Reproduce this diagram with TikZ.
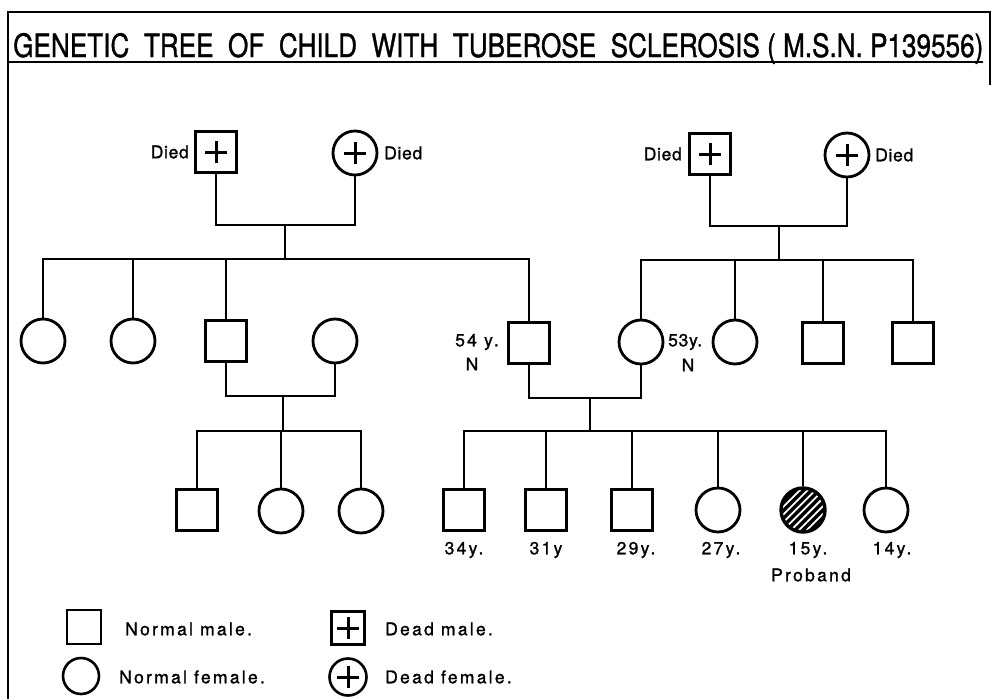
\documentclass[tikz,border=0pt]{standalone}
\usepackage{fontspec}
\usepackage{graphicx}
\usetikzlibrary{patterns.meta,shapes.geometric}
\newfontfamily\lblfont[LetterSpace=13,FakeBold=1.2]{TeX Gyre Heros}
\newfontfamily\diedfont[LetterSpace=4,FakeBold=1.2]{TeX Gyre Heros}
\newfontfamily\titlefont[FakeBold=1.2]{TeX Gyre Heros}
\tikzset{
  male/.style={draw, rectangle, minimum size=41pt, inner sep=0pt, line width=3pt},
  female/.style={draw, circle, minimum size=44pt, inner sep=0pt, line width=2.8pt},
  dead/.style={path picture={
      \draw[line width=3pt] ([xshift=-11pt]path picture bounding box.center) -- ([xshift=11pt]path picture bounding box.center);
      \draw[line width=3pt] ([yshift=-11pt]path picture bounding box.center) -- ([yshift=11pt]path picture bounding box.center);}},
  conn/.style={line width=2.9pt},
  frame/.style={line width=2pt},
  lbl/.style={font=\lblfont\fontsize{17.5}{20}\selectfont, inner sep=0pt},
  died/.style={font=\diedfont\fontsize{17.5}{20}\selectfont, inner sep=0pt},
}
\begin{document}
\begin{tikzpicture}[x=1pt,y=-1pt]
\useasboundingbox (0,0) rectangle (991,699);
% frame
\coordinate (ftl) at (8,12);
\coordinate (ftr) at (990,12);
\coordinate (fbl) at (8,699);
\coordinate (frb) at (990,85);
\coordinate (ul) at (8,62);
\coordinate (ur) at (983,62);
\draw[frame] (fbl) -- (ftl) -- (ftr) -- (frb);
\draw[frame] (ul) -- (ur);
\node[anchor=base west, inner sep=0pt] (title) at (13,57)
  {\resizebox{970pt}{24pt}{\titlefont GENETIC\ \ TREE\ \ OF\ \ CHILD\ \ WITH\ \ TUBEROSE\ \ SCLEROSIS\ ( M.S.N. P139556)}};

% Generation I
\node[male, dead, line width=3.6pt] (gi1) at (216,152) {};
\node[female, dead] (gi2) at (355,153) {};
\node[male, dead] (gi3) at (710,154) {};
\node[female, dead] (gi4) at (847,155) {};
\node[died, anchor=east] (d1) at (189,152) {Died};
\node[died, anchor=west] (d2) at (384,153) {Died};
\node[died, anchor=east] (d3) at (682,154) {Died};
\node[died, anchor=west] (d4) at (875,155) {Died};

% Generation II
\node[female] (c1) at (43,341) {};
\node[female] (c2) at (133,341) {};
\node[male] (c3) at (226,341) {};
\node[female] (w1) at (335,341) {};
\node[male] (fa) at (529,343) {};
\node[female] (mo) at (641,342) {};
\node[female] (a2) at (735,342) {};
\node[male] (a3) at (823,343) {};
\node[male] (a4) at (913,343) {};
\node[lbl, anchor=east] (fal) at (499,342) {54 y.};
\node[lbl] (fan) at (472,364) {N};
\node[died, anchor=west] (mol) at (668,342) {53y.};
\node[lbl] (mon) at (688,365) {N};

% Generation III
\node[male] (g1) at (197,510) {};
\node[female] (g2) at (281,511) {};
\node[female] (g3) at (361,511) {};
\node[male] (h1) at (464,510) {};
\node[male] (h2) at (546,510) {};
\node[male] (h3) at (632,510) {};
\node[female] (h4) at (718,510) {};
\node[female, line width=3.4pt,
  preaction={fill=black},
  preaction={pattern={Lines[angle=45,distance=5.5pt,line width=1.8pt]}, pattern color=white}] (h5) at (803,510) {};
\node[female] (h6) at (886,510) {};
\node[lbl] (l1) at (464,550) {34y.};
\node[lbl] (l2) at (546,550) {31y};
\node[lbl] (l3) at (636,550) {29y.};
\node[lbl] (l4) at (721,550) {27y.};
\node[lbl] (l5) at (808,550) {15y.};
\node[lbl] (l6) at (892,550) {14y.};
\node[lbl] (pb) at (811,575) {Proband};

% connectors generation I -> II
\coordinate (m1) at (285,225);
\coordinate (s1) at (285,259);
\draw[conn] (gi1.south) |- (m1) -| (gi2.south);
\draw[conn] (m1) -- (s1);
\draw[conn] (c1.north) |- (s1) -| (fa.north);
\draw[conn] (c2.north) -- (c2.north |- s1);
\draw[conn] (c3.north) -- (c3.north |- s1);

\coordinate (m2) at (779,226);
\coordinate (s2) at (779,260);
\draw[conn] (gi3.south) |- (m2) -| (gi4.south);
\draw[conn] (m2) -- (s2);
\draw[conn] (mo.north) |- (s2) -| (a4.north);
\draw[conn] (a2.north) -- (a2.north |- s2);
\draw[conn] (a3.north) -- (a3.north |- s2);

% connectors generation II -> III
\coordinate (m3) at (283,396);
\coordinate (s3) at (283,431);
\draw[conn] (c3.south) |- (m3) -| (w1.south);
\draw[conn] (m3) -- (s3);
\draw[conn] (g1.north) |- (s3) -| (g3.north);
\draw[conn] (g2.north) -- (g2.north |- s3);

\coordinate (m4) at (590,398);
\coordinate (s4) at (590,431);
\draw[conn] (fa.south) |- (m4) -| (mo.south);
\draw[conn] (m4) -- (s4);
\draw[conn] (h1.north) |- (s4) -| (h6.north);
\draw[conn] (h2.north) -- (h2.north |- s4);
\draw[conn] (h3.north) -- (h3.north |- s4);
\draw[conn] (h4.north) -- (h4.north |- s4);
\draw[conn] (h5.north) -- (h5.north |- s4);

% legend
\node[male, minimum size=34pt, line width=2.6pt] (k1) at (84,627) {};
\node[lbl, anchor=west] (k1t) at (125,629) {Normal male.};
\node[female, minimum size=36pt, line width=2.6pt] (k2) at (81,676) {};
\node[lbl, anchor=west] (k2t) at (119,677) {Normal female.};
\node[male, dead, minimum size=33pt, line width=2.6pt] (k3) at (348,628) {};
\node[lbl, anchor=west] (k3t) at (385,629) {Dead male.};
\node[female, dead, minimum size=37pt, line width=2.6pt] (k4) at (348,677) {};
\node[lbl, anchor=west] (k4t) at (385,677) {Dead female.};
\end{tikzpicture}
\end{document}
